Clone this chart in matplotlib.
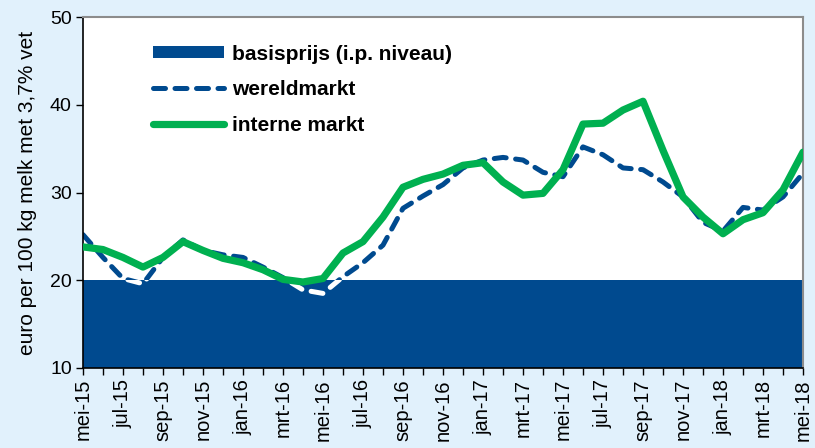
import matplotlib
matplotlib.use("Agg")
import matplotlib.pyplot as plt
import numpy as np
from matplotlib.lines import Line2D
from matplotlib.patches import Patch, Rectangle

plt.rcParams['font.family'] = ['Liberation Sans', 'DejaVu Sans']

# maanden mei-15 t/m mei-18
maanden = ['mei-15', 'jun-15', 'jul-15', 'aug-15', 'sep-15', 'okt-15', 'nov-15', 'dec-15',
           'jan-16', 'feb-16', 'mrt-16', 'apr-16', 'mei-16', 'jun-16', 'jul-16', 'aug-16',
           'sep-16', 'okt-16', 'nov-16', 'dec-16', 'jan-17', 'feb-17', 'mrt-17', 'apr-17',
           'mei-17', 'jun-17', 'jul-17', 'aug-17', 'sep-17', 'okt-17', 'nov-17', 'dec-17',
           'jan-18', 'feb-18', 'mrt-18', 'apr-18', 'mei-18']

basisprijs = [20.0] * len(maanden)

wereldmarkt = [25.2, 22.6, 20.2, 19.6, 22.6, 24.6, 23.4, 22.9, 22.6, 21.5, 20.3, 18.9,
               18.5, 20.4, 22.0, 24.0, 28.2, 29.6, 30.9, 32.8, 33.7, 34.0, 33.7, 32.3,
               31.8, 35.2, 34.3, 32.8, 32.6, 31.2, 29.5, 26.6, 25.6, 28.3, 28.0, 29.5, 32.2]

interne_markt = [23.8, 23.5, 22.6, 21.5, 22.6, 24.4, 23.4, 22.5, 22.0, 21.2, 20.1, 19.8,
                 20.2, 23.1, 24.4, 27.2, 30.6, 31.5, 32.1, 33.1, 33.4, 31.2, 29.7, 29.9,
                 32.6, 37.8, 37.9, 39.4, 40.4, 34.8, 29.5, 27.2, 25.3, 26.9, 27.7, 30.3, 34.6]

blauw = '#004A8F'
groen = '#00B050'
achtergrond = '#E1F1FC'
streep = (2.4, 1.9)
lw_wereld = 3.6

x = np.arange(len(maanden))

fig = plt.figure(figsize=(8.15, 4.48), dpi=100, facecolor=achtergrond)
ax = fig.add_axes([0.1018, 0.1786, 0.8835, 0.7834])
ax.set_facecolor('white')

ax.fill_between(x, 10, basisprijs, color=blauw, linewidth=0, zorder=1)

# wereldmarkt: blauw boven de basisprijs, wit eronder
boven = Rectangle((0, 20), len(maanden), 40, transform=ax.transData)
onder = Rectangle((0, 0), len(maanden), 20, transform=ax.transData)
l1, = ax.plot(x, wereldmarkt, color=blauw, lw=lw_wereld, dashes=streep, zorder=2,
              dash_capstyle='round', dash_joinstyle='round')
l1.set_clip_path(boven)
l2, = ax.plot(x, wereldmarkt, color='white', lw=lw_wereld, dashes=streep, zorder=2,
              dash_capstyle='round', dash_joinstyle='round')
l2.set_clip_path(onder)

ax.plot(x, interne_markt, color=groen, lw=5.2, zorder=3,
        solid_joinstyle='round', solid_capstyle='round')

ax.set_xlim(0, len(maanden) - 1)
ax.set_ylim(10, 50)
ax.set_yticks([10, 20, 30, 40, 50])
ax.set_xticks(x)
ax.set_xticklabels([m if i % 2 == 0 else '' for i, m in enumerate(maanden)],
                   rotation=90, fontsize=14.5)
ax.tick_params(axis='y', labelsize=14, length=5, width=1, direction='out', pad=3)
ax.tick_params(axis='x', length=5, width=1, direction='out', pad=3)
ax.set_ylabel('euro per 100 kg melk met 3,7% vet', fontsize=15, labelpad=9)

for s in ['left', 'bottom']:
    ax.spines[s].set_color('black')
    ax.spines[s].set_linewidth(1.2)
for s in ['top', 'right']:
    ax.spines[s].set_color('#8C8C8C')
    ax.spines[s].set_linewidth(1.5)

handles = [Patch(facecolor=blauw, edgecolor='none'),
           Line2D([], [], color=blauw, lw=lw_wereld, dashes=streep, dash_capstyle='round'),
           Line2D([], [], color=groen, lw=5.2, solid_capstyle='round')]
labels = ['basisprijs (i.p. niveau)', 'wereldmarkt', 'interne markt']
leg = ax.legend(handles, labels, loc='upper left', bbox_to_anchor=(0.071, 0.975),
                frameon=False, handlelength=3.4, handleheight=0.55, handletextpad=0.4,
                labelspacing=0.8, prop={'weight': 'bold', 'size': 15})

fig.savefig('out.png', dpi=100, facecolor=achtergrond)
